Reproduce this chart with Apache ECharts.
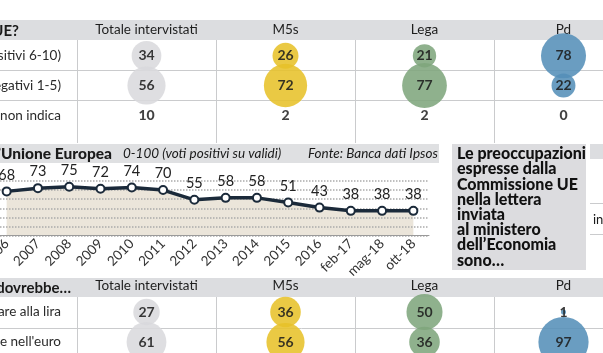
<!DOCTYPE html>
<html>
<head>
<meta charset="utf-8">
<script src="https://cdn.jsdelivr.net/npm/echarts@6/dist/echarts.min.js"></script>
<style>
  html, body { margin: 0; padding: 0; background: #fff; }
  #chart { width: 603px; height: 353px; }
</style>
</head>
<body>
<div id="chart"></div>
<script>
// data
const parties = ["Totale intervistati", "M5s", "Lega", "Pd"];
const giudizioRows = ["Fiducia (voti positivi 6-10)", "Sfiducia (voti negativi 1-5)", "Non sa, non indica"];
const positivi = [34, 26, 21, 78];
const negativi = [56, 72, 77, 22];
const nonIndica = [10, 2, 2, 0];

const anni = ["2006", "2007", "2008", "2009", "2010", "2011", "2012", "2013", "2014", "2015", "2016", "feb-17", "mag-18", "ott-18"];
const fiduciaUE = [68, 73, 75, 72, 74, 70, 55, 58, 58, 51, 43, 38, 38, 38];

const euroRows = ["Tornare alla lira", "Rimanere nell'euro"];
const tornareLira = [27, 36, 50, 1];
const restareEuro = [61, 56, 36, 97];

const partyColors = ["#d9dadd", "#e7c22a", "#80a67d", "#5590b8"];
const font = "Lato, 'Open Sans', sans-serif";

// layout of the tables
const tableLeft = 77;
const colW = 139;
const ruleColor = "#cacbcd";

const chart = echarts.init(document.getElementById("chart"));

//build cells [party, row, value]
function cells(rowName, values) {
  return values.map((v, i) => [parties[i], rowName, v]);
}

const cellLabel = {
  show: true,
  position: "inside",
  formatter: (p) => p.data[2],
  color: "#1e1e1e",
  fontSize: 14,
  fontWeight: "bold",
  fontFamily: font,
};

function bubbleSeries(rowName, values, xi, yi) {
  return {
    type: "scatter",
    xAxisIndex: xi,
    yAxisIndex: yi,
    data: cells(rowName, values),
    symbolSize: (val) => 5.1 * Math.sqrt(val[2]),
    itemStyle: {
      color: (p) => partyColors[parties.indexOf(p.data[0])],
      opacity: 0.88,
    },
    label: Object.assign({}, cellLabel),
    silent: true,
  };
}

//row without bubbles, only the number
function textOnlySeries(rowName, values, xi, yi) {
  return {
    type: "scatter",
    xAxisIndex: xi,
    yAxisIndex: yi,
    data: cells(rowName, values),
    symbolSize: 1,
    itemStyle: { color: "rgba(0,0,0,0)" },
    label: Object.assign({}, cellLabel, { fontWeight: 900, color: "#111", textBorderWidth: 0 }),
    silent: true,
  };
}

function tableXAxis(gi) {
  return {
    type: "category",
    gridIndex: gi,
    data: parties,
    position: "top",
    axisLine: { show: false },
    axisTick: { show: false },
    splitLine: { show: false },
    axisLabel: { color: "#1e1e1e", fontSize: 13.5, fontFamily: font, margin: 4, interval: 0 },
  };
}

function tableYAxis(gi, rows) {
  return {
    type: "category",
    gridIndex: gi,
    data: rows,
    inverse: true,
    axisLine: { show: false },
    axisTick: { show: false },
    splitLine: { show: false },
    axisLabel: { color: "#2a2a2a", fontSize: 13.5, fontFamily: font, margin: 16, interval: 0 },
  };
}

// table rules and header bands
const graphics = [];
function rect(x, y, w, h, color) {
  graphics.push({ type: "rect", z: -5, shape: { x, y, width: w, height: h }, style: { fill: color } });
}
function hline(y, x1, x2) {
  graphics.push({ type: "line", z: -4, shape: { x1, y1: y, x2, y2: y }, style: { stroke: ruleColor, lineWidth: 1 } });
}
function vlines(y1, y2) {
  for (let i = 0; i < 4; i++) {
    const x = tableLeft + colW * i + 0.5;
    graphics.push({ type: "line", z: -4, shape: { x1: x, y1, x2: x, y2 }, style: { stroke: ruleColor, lineWidth: 1 } });
  }
}
function text(str, x, y, opts) {
  graphics.push({
    type: "text",
    z: 10,
    x,
    y,
    style: Object.assign({ text: str, fill: "#1a1a1a", fontSize: 13, fontFamily: font, verticalAlign: "middle" }, opts),
  });
}

// top table
rect(0, 20, 603, 20, "#dcdde0");
hline(70.5, 0, 603);
hline(100.5, 0, 603);
vlines(40, 143);
text("Come giudica la UE?", 19, 31, { fontWeight: "bold", fontSize: 15, align: "right" });

// trend header
rect(0, 144, 439, 19, "#dfe0e2");
text("Fiducia nell\u2019Unione Europea", 112, 154, { fontWeight: 900, fontSize: 15.5, align: "right" });
text("0-100 (voti positivi su validi)", 123, 154, { fontStyle: "italic", fontSize: 13.5 });
text("Fonte: Banca dati Ipsos", 308, 154, { fontStyle: "italic", fontSize: 13.5 });

// side box
rect(452, 144, 134, 126, "#dcdcdf");
rect(590, 144, 13, 15, "#dcdde0");
hline(203.5, 590, 603);
hline(234.5, 590, 603);
text("in", 593, 220, { fontSize: 13 });
const boxLines = ["Le preoccupazioni", "espresse dalla", "Commissione UE", "nella lettera", "inviata", "al ministero", "dell\u2019Economia", "sono\u2026"];
boxLines.forEach((l, i) => {
  text(l, 457, 154 + i * 15.2, { fontWeight: 900, fontSize: 16, fill: "#111" });
});

// bottom table
rect(0, 278, 603, 19, "#dcdde0");
hline(328.5, 0, 603);
vlines(297, 353);
text("L'Italia dovrebbe\u2026", 71, 288, { fontWeight: "bold", fontSize: 15, align: "right" });

chart.setOption({
  animation: false,
  grid: [
    { left: tableLeft, top: 41, width: colW * 4, height: 89, outerBoundsMode: "none" },
    { left: -9, top: 181, width: 438, height: 54.5, outerBoundsMode: "none" },
    { left: tableLeft, top: 297, width: colW * 4, height: 60, outerBoundsMode: "none" },
  ],
  xAxis: [
    tableXAxis(0),
    {
      type: "category",
      gridIndex: 1,
      data: anni,
      boundaryGap: true,
      z: 3,
      axisLine: { lineStyle: { color: "#9a9a9a", width: 1 } },
      axisTick: { show: false },
      axisLabel: { rotate: 45, interval: 0, fontSize: 13.5, color: "#333", fontFamily: font, margin: 6 },
    },
    tableXAxis(2),
  ],
  yAxis: [
    tableYAxis(0, giudizioRows),
    {
      type: "value",
      gridIndex: 1,
      min: 0,
      max: 84,
      interval: 14,
      z: 3,
      axisLabel: { show: false },
      axisLine: { show: false },
      axisTick: { show: false },
      splitLine: { lineStyle: { type: "dotted", color: "#aaaaaa", width: 1.5 } },
    },
    tableYAxis(2, euroRows),
  ],
  series: [
    bubbleSeries(giudizioRows[0], positivi, 0, 0),
    bubbleSeries(giudizioRows[1], negativi, 0, 0),
    textOnlySeries(giudizioRows[2], nonIndica, 0, 0),
    {
      type: "line",
      xAxisIndex: 1,
      yAxisIndex: 1,
      data: fiduciaUE,
      symbol: "none",
      lineStyle: { width: 0 },
      areaStyle: { color: "#ebe5da", opacity: 1 },
      z: 1,
      silent: true,
    },
    {
      type: "line",
      xAxisIndex: 1,
      yAxisIndex: 1,
      data: fiduciaUE,
      z: 5,
      symbol: "circle",
      symbolSize: 8,
      lineStyle: { color: "#1b2a3a", width: 3.5 },
      itemStyle: { color: "#fff", borderColor: "#1b2a3a", borderWidth: 2 },
      label: { show: true, position: "top", distance: 4, fontSize: 14.5, color: "#222", fontFamily: font },
      silent: true,
    },
    bubbleSeries(euroRows[0], tornareLira, 2, 2),
    bubbleSeries(euroRows[1], restareEuro, 2, 2),
  ],
  graphic: graphics,
});
</script>
</body>
</html>
